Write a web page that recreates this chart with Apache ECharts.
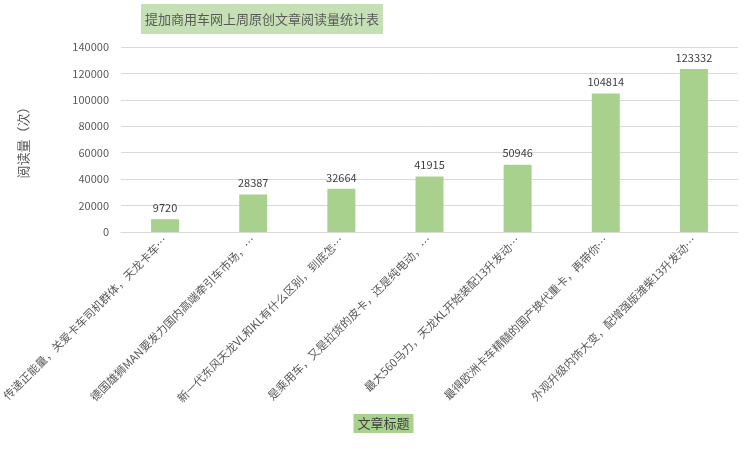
<!DOCTYPE html>
<html>
<head>
<meta charset="utf-8">
<script src="https://cdn.jsdelivr.net/npm/echarts@6/dist/echarts.min.js"></script>
<style>
  html, body { margin: 0; padding: 0; background: #fff; }
  #chart { width: 752px; height: 450px; }
</style>
</head>
<body>
<div id="chart"></div>
<script>
const titles = [
  '传递正能量，关爱卡车司机群体，天龙卡车…',
  '德国雄狮MAN要发力国内高端牵引车市场，…',
  '新一代东风天龙VL和KL有什么区别，到底怎…',
  '是乘用车，又是拉货的皮卡，还是纯电动，…',
  '最大560马力，天龙KL开始装配13升发动…',
  '最得欧洲卡车精髓的国产换代重卡，再带你…',
  '外观升级内饰大变，配增强版潍柴13升发动…'
]
const reads = [9720, 28387, 32664, 41915, 50946, 104814, 123332]

const font = '"Noto Sans CJK SC", sans-serif'
const chart = echarts.init(document.getElementById('chart'))
chart.setOption({
  animation: false,
  textStyle: { fontFamily: font },
  title: {
    text: '提加商用车网上周原创文章阅读量统计表',
    left: 141,
    top: 4,
    backgroundColor: '#c5e0b4',
    padding: [6, 4],
    textStyle: { fontSize: 13, lineHeight: 18, fontWeight: 'normal', color: '#595959', fontFamily: font }
  },
  grid: { left: 121, right: 14, top: 47, bottom: 218, outerBoundsMode: 'none' },
  xAxis: {
    type: 'category',
    data: titles,
    // axis title sits left of centre in the original, the empty spacer pushes it over
    name: '{a|文章标题}{s|}',
    nameLocation: 'middle',
    nameGap: 182,
    nameTextStyle: {
      rich: {
        a: { fontSize: 13, color: '#404040', backgroundColor: '#a9d18e', padding: [3, 4] },
        s: { width: 92 }
      }
    },
    axisLine: { lineStyle: { color: '#d9d9d9' } },
    axisTick: { show: false },
    axisLabel: { rotate: 45, interval: 0, fontSize: 11.3, color: '#595959', margin: 6 }
  },
  yAxis: {
    type: 'value',
    min: 0,
    max: 140000,
    interval: 20000,
    name: '阅读量（次）',
    nameLocation: 'middle',
    nameRotate: 90,
    nameGap: 91,
    nameTextStyle: { fontSize: 13, color: '#595959' },
    axisLabel: { fontSize: 11, color: '#595959', margin: 12, formatter: v => String(v) },
    splitLine: { lineStyle: { color: '#d9d9d9' } }
  },
  series: [{
    type: 'bar',
    data: reads,
    barWidth: 28,
    itemStyle: { color: '#a9d18e' },
    label: { show: true, position: 'top', distance: 6, fontSize: 11, color: '#404040' }
  }]
})
</script>
</body>
</html>
